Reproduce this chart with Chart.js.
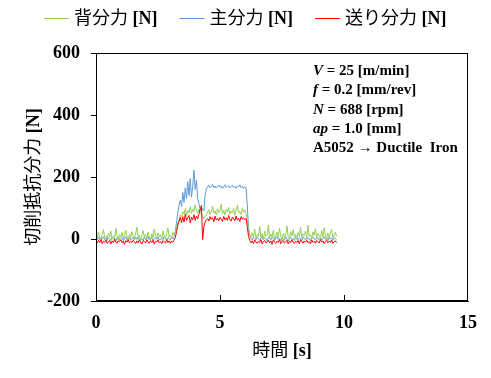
<!DOCTYPE html>
<html>
<head>
<meta charset="utf-8">
<script src="https://cdn.jsdelivr.net/npm/chart.js@4.4.0/dist/chart.umd.min.js"></script>
<style>
  html, body { margin: 0; padding: 0; background: #fff; }
</style>
</head>
<body>
<canvas id="forceChart" width="491" height="378"></canvas>
<script>
// time [s], sampled every 0.05 s
const time = [
  0.00, 0.05, 0.10, 0.15, 0.20, 0.25, 0.30, 0.35, 0.40, 0.45,
  0.50, 0.55, 0.60, 0.65, 0.70, 0.75, 0.80, 0.85, 0.90, 0.95,
  1.00, 1.05, 1.10, 1.15, 1.20, 1.25, 1.30, 1.35, 1.40, 1.45,
  1.50, 1.55, 1.60, 1.65, 1.70, 1.75, 1.80, 1.85, 1.90, 1.95,
  2.00, 2.05, 2.10, 2.15, 2.20, 2.25, 2.30, 2.35, 2.40, 2.45,
  2.50, 2.55, 2.60, 2.65, 2.70, 2.75, 2.80, 2.85, 2.90, 2.95,
  3.00, 3.05, 3.10, 3.15, 3.20, 3.25, 3.30, 3.35, 3.40, 3.45,
  3.50, 3.55, 3.60, 3.65, 3.70, 3.75, 3.80, 3.85, 3.90, 3.95,
  4.00, 4.05, 4.10, 4.15, 4.20, 4.25, 4.30, 4.35, 4.40, 4.45,
  4.50, 4.55, 4.60, 4.65, 4.70, 4.75, 4.80, 4.85, 4.90, 4.95,
  5.00, 5.05, 5.10, 5.15, 5.20, 5.25, 5.30, 5.35, 5.40, 5.45,
  5.50, 5.55, 5.60, 5.65, 5.70, 5.75, 5.80, 5.85, 5.90, 5.95,
  6.00, 6.05, 6.10, 6.15, 6.20, 6.25, 6.30, 6.35, 6.40, 6.45,
  6.50, 6.55, 6.60, 6.65, 6.70, 6.75, 6.80, 6.85, 6.90, 6.95,
  7.00, 7.05, 7.10, 7.15, 7.20, 7.25, 7.30, 7.35, 7.40, 7.45,
  7.50, 7.55, 7.60, 7.65, 7.70, 7.75, 7.80, 7.85, 7.90, 7.95,
  8.00, 8.05, 8.10, 8.15, 8.20, 8.25, 8.30, 8.35, 8.40, 8.45,
  8.50, 8.55, 8.60, 8.65, 8.70, 8.75, 8.80, 8.85, 8.90, 8.95,
  9.00, 9.05, 9.10, 9.15, 9.20, 9.25, 9.30, 9.35, 9.40, 9.45,
  9.50, 9.55, 9.60, 9.65, 9.70
];

// 背分力 [N]
const backForce = [
  12, 3, 22, 6, -2, 15, 30, 5, 10, 1,
  18, 8, 26, 0, 11, 4, 34, 9, -5, 14,
  6, 21, 2, 12, 29, 7, -3, 16, 5, 24,
  9, 1, 19, 38, 4, 13, -4, 10, 27, 6,
  15, 2, 23, 8, -6, 17, 5, 32, 11, 3,
  20, 7, 14, -1, 26, 9, 4, 18, 36, 6,
  12, 2, 21, 15, 22, 35, 52, 62, 78, 72,
  88, 80, 98, 76, 92, 85, 104, 82, 95, 88,
  110, 90, 84, 96, 86, 80, 74, 66, 72, 78,
  86, 94, 79, 88, 105, 83, 91, 77, 98, 85,
  89, 112, 81, 93, 78, 96, 87, 102, 80, 90,
  84, 99, 76, 92, 108, 85, 88, 79, 101, 86,
  94, 82, 62, 30, 12, 4, 20, 7, 32, 2,
  14, 9, 40, 5, 18, -3, 25, 8, 12, 45,
  3, 16, 7, 28, 0, 11, 22, 6, 35, 9,
  -5, 19, 4, 13, 42, 8, 2, 24, 10, 30,
  6, 15, -2, 21, 9, 38, 3, 17, 11, 26,
  5, 44, 8, 14, 0, 23, 12, 33, 4, 18,
  9, 2, 27, 7, 36, 13, -4, 20, 6, 16,
  31, 4, 12, 22, 8
];

// 主分力 [N]
const mainForce = [
  2, -3, 5, 0, -6, 4, 7, -2, 3, -5,
  5, 1, -4, 6, -1, 3, -6, 2, 7, -3,
  0, 4, -5, 3, 8, -2, 1, 6, -4, 2,
  4, -3, 5, -1, 7, -5, 2, 0, -4, 6,
  -2, 3, 8, -3, 1, 5, -6, 2, 4, -1,
  6, -4, 0, 3, -2, 7, 1, -5, 4, 2,
  -3, 5, 0, 8, 25, 55, 85, 110, 125, 105,
  150, 118, 165, 130, 185, 140, 195, 135, 170, 222,
  160, 190, 130, 115, 95, 88, 98, 92, 140, 162,
  168, 173, 165, 170, 176, 166, 171, 164, 169, 174,
  167, 171, 163, 170, 175, 166, 169, 172, 165, 170,
  173, 166, 170, 164, 171, 168, 175, 166, 170, 163,
  169, 165, 110, 35, 10, 2, -4, 5, 0, -3,
  6, 1, -5, 3, 7, -2, 4, 0, -6, 5,
  2, -3, 6, 1, -4, 3, 8, -1, 2, -5,
  4, 0, -3, 7, 1, -6, 3, 5, -2, 2,
  -4, 6, 1, -2, 4, 0, -5, 7, 2, -3,
  5, -1, 3, -6, 2, 6, 0, -3, 4, 1,
  -2, 5, -4, 3, 7, -1, 2, -5, 6, 0,
  3, -4, 5, 1, -2
];

// 送り分力 [N]
const feedForce = [
  -8, -13, -4, -11, -2, -15, -7, -10, -3, -14,
  -9, -5, -16, -6, -12, -1, -10, -14, -6, -8,
  -3, -12, -7, -17, -5, -10, -2, -13, -8, -11,
  -4, -9, -15, -6, -12, -3, -10, -16, -5, -8,
  -13, -2, -9, -14, -6, -11, -4, -17, -7, -10,
  -3, -12, -8, -15, -5, -9, -13, -2, -11, -6,
  -14, -7, -10, -4, 5, 25, 45, 58, 70, 52,
  72, 55, 80, 60, 68, 76, 52, 70, 62, 78,
  60, 74, 65, 80, 95, 108, -2, 40, 55, 62,
  66, 58, 72, 63, 69, 55, 74, 61, 67, 59,
  70, 64, 57, 73, 62, 68, 60, 76, 63, 58,
  71, 65, 59, 74, 61, 67, 56, 72, 64, 69,
  62, 66, 40, 8, -5, -12, -6, -15, -3, -10,
  -14, -7, -11, -2, -16, -8, -5, -13, -9, -4,
  -12, -6, -17, -3, -10, -14, -7, -11, -2, -15,
  -8, -5, -13, -9, -4, -16, -6, -12, -3, -10,
  -14, -7, -11, -5, -15, -2, -9, -13, -6, -10,
  -4, -12, -8, -16, -3, -11, -7, -14, -5, -9,
  -13, -2, -10, -6, -15, -8, -4, -12, -7, -11,
  -3, -14, -9, -6, -12
];

const seriesNames = ['背分力', '主分力', '送り分力'];
const seriesValues = [backForce, mainForce, feedForce];
const seriesColors = ['#92d050', '#5b9bd5', '#ff0000'];
const drawOrder = [1, 2, 0]; // red on top, blue underneath

const xTicks = [0, 5, 10, 15];
const yTicks = [-200, 0, 200, 400, 600];

// cutting conditions: [italic symbol, rest]
const conditions = [
  ['V', ' = 25 [m/min]'],
  ['f', ' = 0.2 [mm/rev]'],
  ['N', ' = 688 [rpm]'],
  ['ap', ' = 1.0 [mm]'],
  ['', 'A5052 \u2192 Ductile  Iron']
];

const serif = "'Liberation Serif', 'Times New Roman', serif";
const gothic = "'Noto Sans CJK JP', 'Noto Sans CJK SC', sans-serif";
const cjk18 = '18px ' + gothic;
const serifBold18 = 'bold 18px ' + serif;

function runsWidth(ctx, runs) {
    let w = 0;
    runs.forEach(r => { ctx.font = r[1]; w += ctx.measureText(r[0]).width; });
    return w;
}

function drawRuns(ctx, runs, x, y) {
    runs.forEach(r => {
        ctx.font = r[1];
        ctx.fillText(r[0], x, y);
        x += ctx.measureText(r[0]).width;
    });
    return x;
}

const frameAndText = {
    id: 'frameAndText',
    afterDraw(chart) {
        const ctx = chart.ctx;
        const area = chart.chartArea;
        const xs = chart.scales.x;
        ctx.save();

        // plot frame
        ctx.strokeStyle = '#000';
        ctx.lineWidth = 1;
        ctx.strokeRect(Math.round(area.left) + 0.5, Math.round(area.top) + 0.5,
            Math.round(area.right - area.left) - 1, Math.round(area.bottom - area.top) - 1);

        // inner tick marks on the time axis
        ctx.beginPath();
        xTicks.forEach(v => {
            if (v <= xs.min || v >= xs.max) return;
            const px = Math.round(xs.getPixelForValue(v)) + 0.5;
            ctx.moveTo(px, area.bottom);
            ctx.lineTo(px, area.bottom - 6);
        });
        ctx.stroke();

        ctx.fillStyle = '#000';
        ctx.textBaseline = 'alphabetic';
        ctx.textAlign = 'left';

        // legend
        const lineLen = 25, lineGap = 5, itemGap = 22;
        const items = seriesNames.map(n => [[n, cjk18], [' [N]', serifBold18]]);
        let total = 0;
        items.forEach((runs, i) => {
            total += lineLen + lineGap + runsWidth(ctx, runs) + (i < items.length - 1 ? itemGap : 0);
        });
        let lx = Math.round((chart.width - total) / 2);
        items.forEach((runs, i) => {
            ctx.strokeStyle = seriesColors[i];
            ctx.beginPath();
            ctx.moveTo(lx, 18.5);
            ctx.lineTo(lx + lineLen, 18.5);
            ctx.stroke();
            lx = drawRuns(ctx, runs, lx + lineLen + lineGap, 24) + itemGap;
        });

        // x axis title
        const xRuns = [['時間', cjk18], [' [s]', serifBold18]];
        const xMid = (area.left + area.right) / 2;
        drawRuns(ctx, xRuns, xMid - runsWidth(ctx, xRuns) / 2, 356);

        // y axis title
        const yRuns = [['切削抵抗分力', cjk18], [' [N]', serifBold18]];
        ctx.save();
        ctx.translate(39, 177);
        ctx.rotate(-Math.PI / 2);
        drawRuns(ctx, yRuns, -runsWidth(ctx, yRuns) / 2, 0);
        ctx.restore();

        // conditions
        conditions.forEach((c, i) => {
            const y = 75 + i * 19.3;
            drawRuns(ctx, [[c[0], 'italic bold 15px ' + serif], [c[1], 'bold 15px ' + serif]], 313, y);
        });

        ctx.restore();
    }
};

Chart.defaults.color = '#000';

new Chart(document.getElementById('forceChart').getContext('2d'), {
    type: 'line',
    data: {
        datasets: seriesNames.map((name, i) => ({
            label: name + ' [N]',
            data: time.map((t, k) => ({ x: t, y: seriesValues[i][k] })),
            borderColor: seriesColors[i],
            backgroundColor: seriesColors[i],
            borderWidth: 1,
            pointRadius: 0,
            tension: 0,
            fill: false,
            order: drawOrder[i]
        }))
    },
    options: {
        responsive: false,
        animation: false,
        layout: {
            padding: { top: 53, right: 23, bottom: 0, left: 0 }
        },
        scales: {
            x: {
                type: 'linear',
                min: 0,
                max: 15,
                afterBuildTicks: scale => { scale.ticks = xTicks.map(v => ({ value: v })); },
                afterFit: scale => { scale.height = 77; },
                ticks: {
                    maxRotation: 0,
                    padding: 12,
                    font: { family: serif, size: 18, weight: 'bold' }
                },
                grid: { display: true, drawOnChartArea: false, drawTicks: false, color: '#000' },
                border: { display: true, color: '#000' }
            },
            y: {
                min: -200,
                max: 600,
                afterBuildTicks: scale => { scale.ticks = yTicks.map(v => ({ value: v })); },
                afterFit: scale => { scale.width = 96; },
                ticks: {
                    padding: 11,
                    font: { family: serif, size: 18, weight: 'bold' }
                },
                grid: { display: true, drawOnChartArea: false, drawTicks: true, tickLength: 5, color: '#000' },
                border: { display: true, color: '#000' }
            }
        },
        plugins: {
            legend: { display: false },
            tooltip: { enabled: false }
        }
    },
    plugins: [frameAndText]
});
</script>
</body>
</html>
